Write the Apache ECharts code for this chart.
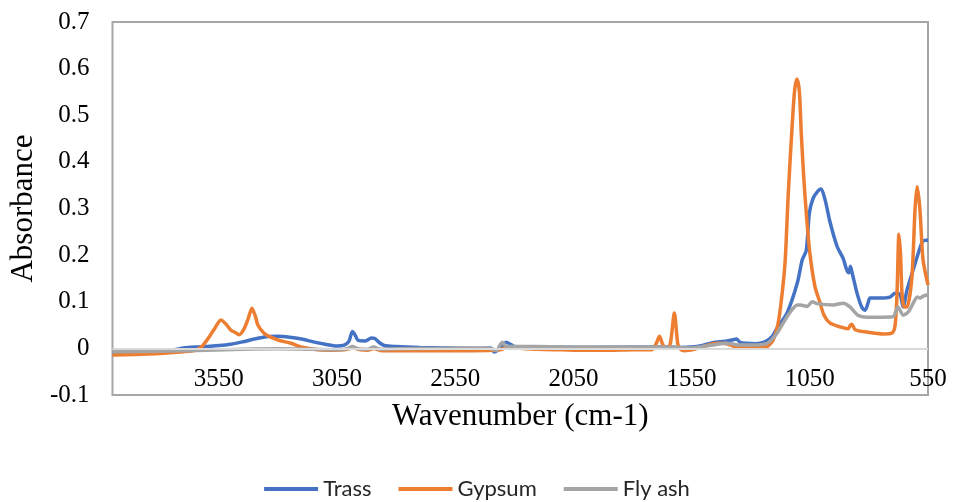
<!DOCTYPE html>
<html>
<head>
<meta charset="utf-8">
<script src="https://cdn.jsdelivr.net/npm/echarts@6/dist/echarts.min.js"></script>
<style>
html,body{margin:0;padding:0;background:#fff;}
#chart{width:954px;height:502px;}
</style>
</head>
<body>
<div id="chart"></div>
<script>
// ---- Data ----
var seriesNames = ['Trass', 'Gypsum', 'Fly ash'];
var xTickLabels = [550, 1050, 1550, 2050, 2550, 3050, 3550];

var trassWavenumber = [4000,3900,3800,3740,3700,3650,3600,3550,3500,3450,3400,3350,3300,3250,3200,3150,3100,3050,3020,3000,2985,2975,2960,2930,2905,2890,2870,2850,2800,2700,2600,2450,2400,2385,2370,2350,2335,2320,2300,2200,2000,1800,1650,1600,1550,1500,1450,1400,1380,1360,1345,1320,1280,1240,1210,1188,1146,1103,1082,1065,1052,1036,1015,1002,985,964,934,909,895,885,878,870,850,829,816,805,795,753,711,689,668,655,639,613,575,560,550];
var trassAbsorbance = [-0.010,-0.009,-0.006,-0.003,0.001,0.003,0.004,0.006,0.009,0.014,0.020,0.025,0.026,0.024,0.020,0.014,0.009,0.005,0.007,0.015,0.036,0.030,0.017,0.016,0.022,0.021,0.012,0.006,0.004,0.002,0.001,0.000,0.001,-0.008,-0.004,0.006,0.013,0.010,0.004,0.003,0.002,0.003,0.003,0.002,0.003,0.007,0.013,0.016,0.018,0.020,0.013,0.011,0.010,0.014,0.025,0.044,0.076,0.140,0.190,0.210,0.290,0.322,0.338,0.342,0.318,0.270,0.218,0.193,0.170,0.162,0.176,0.160,0.118,0.087,0.082,0.095,0.108,0.108,0.110,0.118,0.115,0.089,0.125,0.168,0.228,0.232,0.232];

var gypsumWavenumber = [4000,3850,3700,3650,3620,3590,3565,3541,3520,3499,3480,3465,3445,3427,3410,3395,3385,3360,3330,3300,3245,3203,3131,3063,3020,2983,2950,2920,2895,2860,2700,2500,2380,2360,2330,2300,2200,2100,2000,1900,1800,1720,1700,1686,1672,1655,1640,1623,1608,1595,1580,1540,1500,1458,1420,1400,1370,1330,1270,1230,1205,1184,1167,1154,1141,1125,1114,1104,1094,1086,1076,1066,1050,1028,1008,990,964,922,888,878,872,858,808,740,702,689,681,673,666,660,651,639,618,605,596,584,571,550];
var gypsumAbsorbance = [-0.014,-0.012,-0.007,-0.004,0.005,0.025,0.045,0.061,0.052,0.039,0.034,0.029,0.040,0.062,0.086,0.068,0.050,0.033,0.024,0.018,0.011,0.003,-0.003,-0.004,-0.003,0.001,-0.003,-0.004,0.000,-0.005,-0.005,-0.005,-0.004,-0.003,0.002,0.001,-0.002,-0.003,-0.004,-0.004,-0.003,-0.003,0.010,0.026,0.008,0.000,0.010,0.076,0.008,-0.003,-0.005,-0.002,0.004,0.010,0.011,0.010,0.004,0.002,0.002,0.004,0.018,0.054,0.118,0.190,0.333,0.475,0.555,0.578,0.550,0.460,0.370,0.297,0.205,0.132,0.100,0.071,0.054,0.046,0.042,0.050,0.052,0.040,0.035,0.031,0.033,0.050,0.118,0.245,0.200,0.118,0.089,0.089,0.153,0.297,0.347,0.297,0.190,0.136];

var flyAshWavenumber = [4000,3800,3600,3450,3300,3150,3050,3010,2985,2960,2920,2895,2870,2800,2600,2420,2390,2375,2360,2350,2335,2300,2200,2050,1900,1700,1600,1550,1500,1450,1400,1344,1300,1230,1188,1146,1103,1091,1061,1040,1020,951,909,880,846,808,765,698,677,655,634,605,595,584,570,550];
var flyAshAbsorbance = [-0.007,-0.006,-0.004,-0.002,-0.001,-0.002,-0.003,-0.001,0.004,-0.001,-0.002,0.003,-0.002,-0.001,0.000,0.001,-0.002,-0.005,0.008,0.013,0.004,0.004,0.004,0.003,0.003,0.003,0.002,0.001,0.004,0.008,0.011,0.007,0.007,0.011,0.033,0.068,0.093,0.093,0.090,0.100,0.096,0.093,0.097,0.089,0.071,0.067,0.067,0.068,0.089,0.071,0.078,0.104,0.110,0.108,0.112,0.115];

function pairs(xs, ys) {
  var out = [];
  for (var i = 0; i < xs.length; i++) out.push([xs[i], ys[i]]);
  return out;
}

var colors = ['#4472C4', '#ED7D31', '#A5A5A5'];
var dataSets = [
  pairs(trassWavenumber, trassAbsorbance),
  pairs(gypsumWavenumber, gypsumAbsorbance),
  pairs(flyAshWavenumber, flyAshAbsorbance)
];

var serif = '"Liberation Serif", "Times New Roman", serif';

var series = seriesNames.map(function (n, i) {
  return {
    name: n,
    type: 'line',
    data: dataSets[i],
    showSymbol: false,
    smooth: 0.25,
    itemStyle: { color: colors[i] },
    lineStyle: { width: 3.5, color: colors[i] },
    z: 2 + i
  };
});
series.push({
  name: 'zero',
  type: 'line',
  data: [],
  silent: true,
  z: 1,
  markLine: {
    silent: true,
    symbol: ['none', 'none'],
    label: { show: false },
    lineStyle: { color: '#d9d9d9', width: 2, type: 'solid' },
    emphasis: { disabled: true },
    data: [{ yAxis: 0 }]
  }
});

var chart = echarts.init(document.getElementById('chart'));
chart.setOption({
  animation: false,
  color: colors,
  grid: {
    left: 110, right: 26, top: 22, bottom: 107,
    show: true, borderColor: '#a6a6a6', borderWidth: 2, backgroundColor: '#fff'
  },
  legend: {
    data: seriesNames,
    left: 'center',
    top: 473,
    icon: 'rect',
    itemWidth: 54,
    itemHeight: 4,
    itemGap: 27,
    textStyle: { fontFamily: 'Lato, "Open Sans", sans-serif', fontSize: 22, color: '#262626' }
  },
  xAxis: {
    type: 'value',
    inverse: true,
    min: 550,
    max: 4000,
    name: 'Wavenumber (cm-1)',
    nameLocation: 'middle',
    nameGap: 4,
    nameTextStyle: { fontFamily: serif, fontSize: 31, color: '#000', verticalAlign: 'top' },
    axisLine: { show: false, onZero: false },
    axisTick: { show: false },
    splitLine: { show: false },
    axisLabel: {
      customValues: xTickLabels,
      inside: true,
      formatter: function (v) { return String(v); },
      fontFamily: serif, fontSize: 25, color: '#000', margin: 3
    }
  },
  yAxis: {
    type: 'value',
    min: -0.1,
    max: 0.7,
    interval: 0.1,
    name: 'Absorbance',
    nameLocation: 'middle',
    nameGap: 70,
    nameTextStyle: { fontFamily: serif, fontSize: 31, color: '#000' },
    axisLine: { show: false },
    axisTick: { show: false },
    splitLine: { show: false },
    axisLabel: {
      fontFamily: serif, fontSize: 25, color: '#000', margin: 23,
      formatter: function (v) { return String(Math.round(v * 10) / 10); }
    }
  },
  series: series
});
</script>
</body>
</html>
